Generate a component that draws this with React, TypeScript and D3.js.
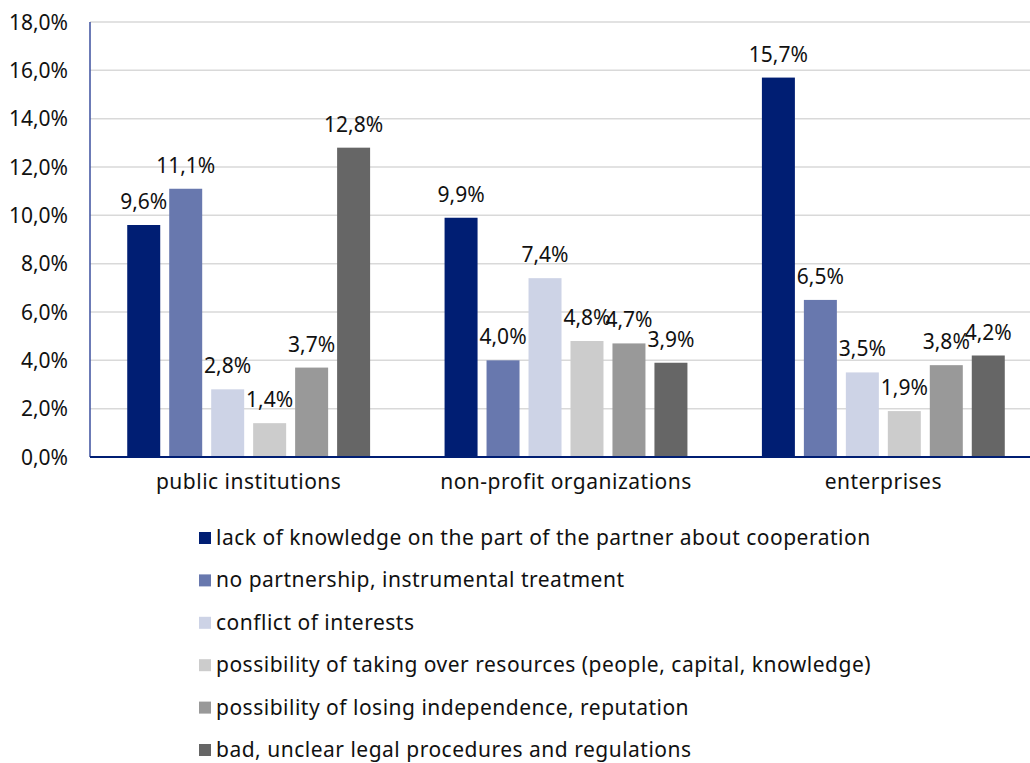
import React from 'react';
import * as d3 from 'd3';

const categories = ['public institutions', 'non-profit organizations', 'enterprises'];
const seriesNames = [
  'lack of knowledge on the part of the partner about cooperation',
  'no partnership, instrumental treatment',
  'conflict of interests',
  'possibility of taking over resources (people, capital, knowledge)',
  'possibility of losing independence, reputation',
  'bad, unclear legal procedures and regulations',
];
const seriesColors = ['#001e73', '#6878ae', '#cdd3e6', '#cccccc', '#999999', '#666666'];
// values per series, ordered like categories
const lackKnowledge = [9.6, 9.9, 15.7];
const noPartnership = [11.1, 4.0, 6.5];
const conflict = [2.8, 7.4, 3.5];
const takingOver = [1.4, 4.8, 1.9];
const losingIndep = [3.7, 4.7, 3.8];
const badLegal = [12.8, 3.9, 4.2];
const seriesValues = [lackKnowledge, noPartnership, conflict, takingOver, losingIndep, badLegal];
const yTicks = [0, 2, 4, 6, 8, 10, 12, 14, 16, 18];

const W = 1030;
const H = 763;
const FONT = '"Noto Sans", sans-serif';
const FS = 21;
const LS = 0.5;
const fmt = (v: number) => v.toFixed(1).replace('.', ',') + '%';

export default function App() {
  const left = 90;
  const right = 1042;
  const top = 22;
  const bottom = 457;

  const x0 = d3.scaleBand<string>().domain(categories).range([left, right]).padding(0);
  const x1 = d3
    .scaleBand<number>()
    .domain(d3.range(seriesNames.length))
    .range([0, x0.bandwidth()])
    .paddingInner(0.214)
    .paddingOuter(0.887);
  const y = d3.scaleLinear().domain([0, 18]).range([bottom, top]);

  return (
    <div style={{ position: 'fixed', left: 0, top: 0 }}>
      <svg width={W} height={H} style={{ display: 'block', background: '#fff' }} fontFamily={FONT}>
        {/* grid */}
        {yTicks.slice(1).map((t) => (
          <line key={t} x1={left} x2={right} y1={y(t)} y2={y(t)} stroke="#d9d9d9" strokeWidth={1.5} />
        ))}
        {/* y tick labels */}
        {yTicks.map((t) => (
          <text key={t} x={68} y={y(t)} dy="0.36em" textAnchor="end" fontSize={FS} fill="#111">
            {fmt(t)}
          </text>
        ))}
        {/* bars */}
        {categories.map((c, ci) => (
          <g key={c} transform={`translate(${x0(c)},0)`}>
            {seriesValues.map((vals, si) => {
              const v = vals[ci];
              const bx = x1(si) as number;
              return (
                <g key={si}>
                  <rect x={bx} y={y(v)} width={x1.bandwidth()} height={bottom - y(v)} fill={seriesColors[si]} />
                  <text
                    x={bx + x1.bandwidth() / 2}
                    y={y(v) - 16}
                    textAnchor="middle"
                    fontSize={FS}
                    fill="#111"
                  >
                    {fmt(v)}
                  </text>
                </g>
              );
            })}
          </g>
        ))}
        {/* axes */}
        <line x1={left} x2={left} y1={top} y2={bottom} stroke="#3b4f9e" strokeWidth={1.5} />
        <line x1={left} x2={right} y1={bottom} y2={bottom} stroke="#001e73" strokeWidth={2} />
        {categories.map((c) => (
          <text
            key={c}
            x={(x0(c) as number) + x0.bandwidth() / 2}
            y={489}
            textAnchor="middle"
            fontSize={FS}
            letterSpacing={LS}
            fill="#111"
          >
            {c}
          </text>
        ))}
        {/* legend */}
        {seriesNames.map((n, i) => (
          <g key={n} transform={`translate(199,${532 + i * 42.4})`}>
            <rect x={0} y={0} width={12} height={12} fill={seriesColors[i]} />
            <text x={17} y={13} fontSize={FS} letterSpacing={LS} fill="#111">
              {n}
            </text>
          </g>
        ))}
      </svg>
    </div>
  );
}
